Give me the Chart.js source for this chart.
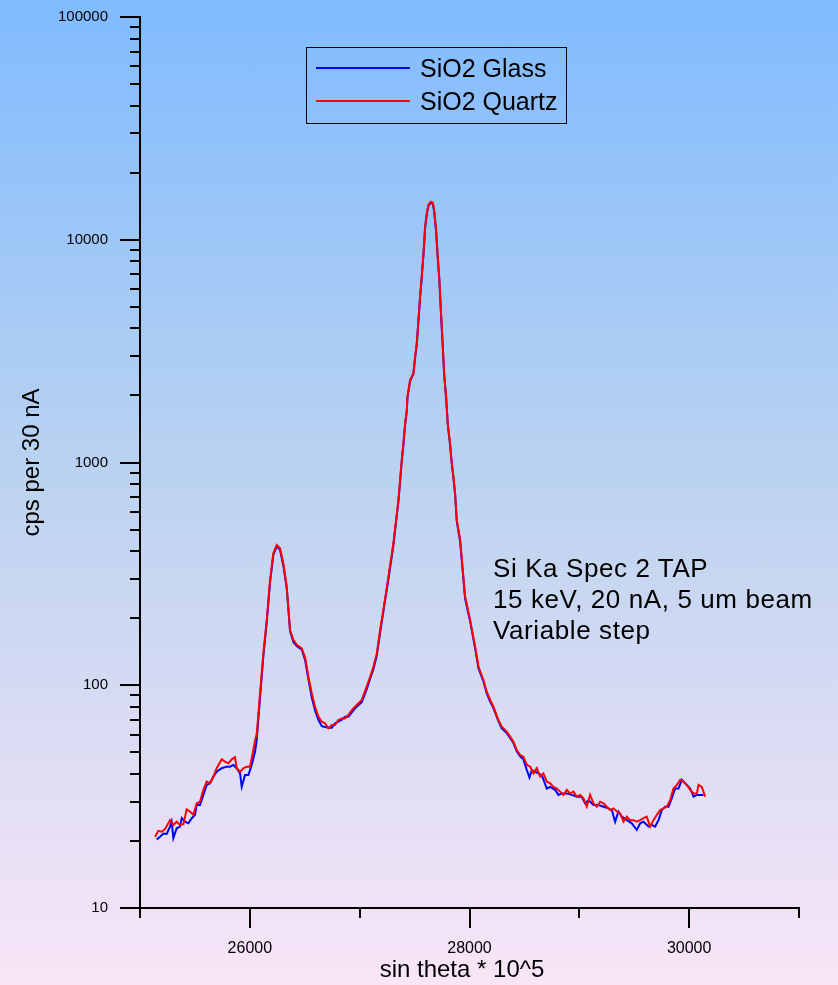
<!DOCTYPE html>
<html>
<head>
<meta charset="utf-8">
<script src="https://cdn.jsdelivr.net/npm/chart.js@4.4.0/dist/chart.umd.min.js"></script>
<style>
html,body{margin:0;padding:0;}
body{width:838px;height:985px;overflow:hidden;position:relative;
  background:linear-gradient(to bottom,#80bbff 0%,#bcd3f0 49%,#f9e5f7 100%);
  font-family:"Liberation Sans",Arial,sans-serif;color:#000;}
#c{position:absolute;left:0;top:0;}
.legend{position:absolute;left:306px;top:47px;width:259px;height:75px;border:1.5px solid #000;}
.lg-line{position:absolute;height:2px;width:94px;left:316px;}
.lg-text{position:absolute;left:420px;font-size:25px;line-height:32px;white-space:nowrap;}
.note{position:absolute;left:493px;top:553px;font-size:26px;line-height:31px;letter-spacing:0.6px;white-space:nowrap;}
.xtitle{position:absolute;left:312px;width:300px;top:954px;text-align:center;font-size:24px;line-height:29px;white-space:nowrap;}
</style>
</head>
<body>
<canvas id="c" width="838" height="985"></canvas>
<div class="legend"></div>
<div class="lg-line" style="top:67px;background:#0000ff"></div>
<div class="lg-text" id="lg0" style="top:52px"></div>
<div class="lg-line" style="top:100px;background:#ff0000"></div>
<div class="lg-text" id="lg1" style="top:85px"></div>
<div class="note" id="note"></div>
<div class="xtitle" id="xtitle"></div>
<script>
// ---------- data ----------
const seriesNames = ['SiO2 Glass', 'SiO2 Quartz'];
const noteLines = ['Si Ka Spec 2 TAP', '15 keV, 20 nA, 5 um beam', 'Variable step'];
const xTitle = 'sin theta * 10^5';
const yTitle = 'cps per 30 nA';

const xTickValues = [26000, 28000, 30000];
const xTickLabels = ['26000', '28000', '30000'];
const xMinorTicks = [25000, 27000, 29000, 31000];
const yTickValues = [10, 100, 1000, 10000, 100000];
const yTickLabels = ['10', '100', '1000', '10000', '100000'];

const quartzX = [
  25137,25167,25197,25228,25273,25304,25334,25364,25395,25425,
  25455,25486,25516,25546,25577,25607,25638,25668,25698,25744,
  25774,25805,25835,25865,25880,25911,25941,25972,26002,
  26032,26047,26063,26093,26123,26154,26184,26214,26245,26275,
  26305,26336,26366,26397,26427,26472,26503,26533,26564,26594,
  26624,26655,26685,26715,26746,26776,26806,26837,26867,26897,
  26928,26973,27019,27064,27095,27125,27156,27186,27216,27262,
  27307,27332,
  27353,27368,27383,27398,27414,27429,27435,27459,27489,27505,
  27520,27535,27550,27565,27581,27596,27611,27626,27647,27666,
  27678,27696,27711,27726,27741,27757,27769,27787,27802,27823,
  27839,27854,27869,
  27884,27915,27960,28006,28051,28082,28127,
  28157,28188,28218,28263,28294,28339,28370,28400,28430,28461,
  28491,28522,28552,28582,28613,28643,28673,28704,28734,28764,
  28795,28825,28856,28886,28916,28947,28977,29007,29038,29068,
  29098,29129,29159,29189,29220,29250,29281,29311,29341,29372,
  29402,29432,29463,29493,29523,29554,29584,29614,29645,29675,
  29706,29736,29766,29797,29827,29857,29888,29918,29948,29979,
  30009,30040,30070,30085,30115,30146
];
const quartzY = [
  20.9,22.2,22.0,22.6,24.8,23.6,24.4,23.6,23.8,27.7,
  27.1,26.2,29.5,30.0,33.9,36.9,36.3,38.9,42.4,46.5,
  45.4,44.6,46.5,47.5,42.4,40.9,42.4,43.1,43.1,
  51.2,56.4,60.8,92,139,196,297,391,426,412,
  353,277,177,160,152,146.5,134,109,92,80.1,
  72.3,68.6,67.5,64.1,66.3,66.3,69.8,71.0,71.0,73.5,
  77.4,81.5,85.9,98.6,109,121,139,177,218,307,
  434,552,
  679,834,1026,1219,1499,1720,1975,2346,2514,2987,
  3427,4362,5551,6828,8690,11450,13140,14320,14820,14670,
  13600,11060,8395,6597,4673,3311,2514,1975,1499,1219,
  991,864,727,
  552,449,250,196,149,121,105.6,
  93.6,85.9,80.1,69.8,65.2,61.9,58.8,55.8,51.2,48.6,
  47.8,43.9,43.1,40.2,42.4,38.9,40.2,36.9,36.3,35.0,
  34.4,33.3,32.2,33.9,32.7,33.3,31.6,32.2,31.1,28.5,
  32.2,29.5,28.5,30.0,29.5,28.5,27.5,28.0,27.1,26.6,
  24.4,25.7,24.8,24.8,24.4,24.8,25.3,25.7,23.2,24.8,
  26.2,27.5,28.0,28.5,30.5,34.4,35.7,37.6,36.9,35.7,
  33.9,32.7,32.7,35.7,35.0,31.6
];

const glassX = [
  25152,25182,25213,25243,25273,25288,25304,25334,25364,25380,
  25410,25440,25471,25501,25516,25546,25577,25607,25638,25668,
  25698,25744,25789,25820,25850,25880,25911,25926,25956,25987,
  26017,26047,26063,
  26093,26123,26154,26184,26214,26245,26275,26305,26336,26366,
  26397,26427,26472,26503,26533,26564,26594,26624,26655,26685,
  26715,26746,26776,26806,26837,26867,26897,26928,26973,27019,
  27064,27095,27125,27156,27186,27216,27262,27307,27332,
  27353,27368,27383,27398,27414,27429,27435,27459,27489,27505,
  27520,27535,27550,27565,27581,27596,27611,27626,27647,27666,
  27678,27696,27711,27726,27741,27757,27769,27787,27802,27823,
  27839,27854,27869,
  27884,27915,27960,28006,28051,28082,28127,28157,28188,28218,
  28263,28294,28339,28370,28400,28430,28461,28491,28522,28546,
  28567,28597,28628,28658,28704,28734,28780,28810,28840,28886,
  28931,28977,29022,29053,29083,29129,29174,29220,29265,29296,
  29326,29356,29387,29432,29478,29523,29554,29584,29630,29660,
  29690,29721,29751,29781,29812,29842,29872,29903,29933,29963,
  30009,30040,30070,30100,30131
];
const glassY = [
  20.3,20.9,21.6,21.5,23.2,24.4,20.6,22.8,23.2,25.3,
  24.4,24.0,25.3,26.2,29.0,29.0,32.2,35.7,36.3,38.9,
  40.9,42.4,43.1,43.1,43.9,42.4,40.2,35.0,39.5,39.5,
  43.9,50.3,56.8,
  88,135,192,290,385,420,405,345,272,175,
  156,150,145,130,107,88,77,70,65.5,65,
  64.5,64.5,67.5,68.6,70,72.3,72.3,75.5,80.1,84,
  96,107,118,136,172,215,300,425,545,
  670,820,1010,1200,1480,1700,1950,2320,2500,2950,
  3400,4300,5500,6750,8600,11300,13000,14200,14700,14500,
  13400,10900,8300,6500,4600,3280,2490,1950,1480,1200,
  980,850,715,
  545,440,245,193,147,119,104,92,84.5,79,
  69,64,61,58,55,50.5,48,46.5,41.6,38.6,
  41.6,40.9,40.2,39.5,34.4,35.0,33.9,32.2,32.7,32.7,
  32.2,31.6,31.6,29.5,30.5,29.0,29.0,28.5,28.0,27.5,
  24.4,27.1,25.7,24.8,24.0,22.4,24.0,24.4,23.2,23.6,
  23.2,24.8,27.5,28.5,28.5,31.1,34.4,34.4,37.6,36.3,
  34.4,31.6,32.2,32.2,32.2
];

// ---------- text ----------
document.getElementById('lg0').textContent = seriesNames[0];
document.getElementById('lg1').textContent = seriesNames[1];
document.getElementById('xtitle').textContent = xTitle;
const noteEl = document.getElementById('note');
noteLines.forEach((s, i) => { if (i) noteEl.appendChild(document.createElement('br')); noteEl.appendChild(document.createTextNode(s)); });

function pts(xs, ys){ return xs.map((x,i)=>({x:x, y:ys[i]})); }

const FONT = '"Liberation Sans", Arial, sans-serif';

const tickMarks = {
  id: 'tickMarks',
  afterDraw(chart){
    const ctx = chart.ctx, xs = chart.scales.x, ys = chart.scales.y;
    const a = chart.chartArea;
    ctx.save();
    ctx.strokeStyle = '#000';
    ctx.lineWidth = 2;
    ctx.beginPath();
    xTickValues.forEach(v => { const p = Math.round(xs.getPixelForValue(v)); ctx.moveTo(p, a.bottom); ctx.lineTo(p, a.bottom + 20); });
    xMinorTicks.forEach(v => { const p = Math.round(xs.getPixelForValue(v)); ctx.moveTo(p, a.bottom); ctx.lineTo(p, a.bottom + 10); });
    yTickValues.forEach(v => { const p = Math.round(ys.getPixelForValue(v)); ctx.moveTo(a.left, p); ctx.lineTo(a.left - 20, p); });
    for (let d = 10; d < 100000; d *= 10) {
      for (let m = 2; m <= 9; m++) {
        const p = Math.round(ys.getPixelForValue(d * m));
        ctx.moveTo(a.left, p); ctx.lineTo(a.left - 10, p);
      }
    }
    ctx.stroke();
    ctx.restore();
  }
};

new Chart(document.getElementById('c'), {
  type: 'scatter',
  data: {
    datasets: [
      { label: seriesNames[1], data: pts(quartzX, quartzY), borderColor: '#ff0000', backgroundColor: '#ff0000',
        showLine: true, pointRadius: 0, borderWidth: 2, tension: 0 },
      { label: seriesNames[0], data: pts(glassX, glassY), borderColor: '#0000ff', backgroundColor: '#0000ff',
        showLine: true, pointRadius: 0, borderWidth: 2, tension: 0 }
    ]
  },
  options: {
    responsive: false,
    animation: false,
    devicePixelRatio: 1,
    layout: { padding: { top: 17, right: 39, left: 0, bottom: 0 } },
    plugins: { legend: { display: false }, tooltip: { enabled: false } },
    scales: {
      x: {
        type: 'linear', position: 'bottom', min: 25000, max: 31000,
        afterBuildTicks: s => { s.ticks = xTickValues.map(v => ({ value: v })); },
        afterFit: s => { s.height = 77; s.paddingLeft = 0; s.paddingRight = 0; },
        ticks: { padding: 31, maxRotation: 0, autoSkip: false, color: '#000',
          font: { family: FONT, size: 16 },
          callback: (v, i) => xTickLabels[i] },
        grid: { display: true, drawOnChartArea: false, drawTicks: false },
        border: { display: true, color: '#000', width: 2 },
        title: { display: false }
      },
      y: {
        type: 'logarithmic', position: 'left', min: 10, max: 100000,
        afterBuildTicks: s => { s.ticks = yTickValues.map(v => ({ value: v })); },
        afterFit: s => { s.width = 140; s.paddingTop = 0; s.paddingBottom = 0; },
        ticks: { padding: 32, autoSkip: false, color: '#000',
          font: { family: FONT, size: 15 },
          callback: (v, i) => yTickLabels[i] },
        grid: { display: true, drawOnChartArea: false, drawTicks: false },
        border: { display: true, color: '#000', width: 2 },
        title: { display: true, text: yTitle, color: '#000', font: { family: FONT, size: 24 }, padding: { top: 18, bottom: 0 } }
      }
    }
  },
  plugins: [tickMarks]
});
</script>
</body>
</html>
